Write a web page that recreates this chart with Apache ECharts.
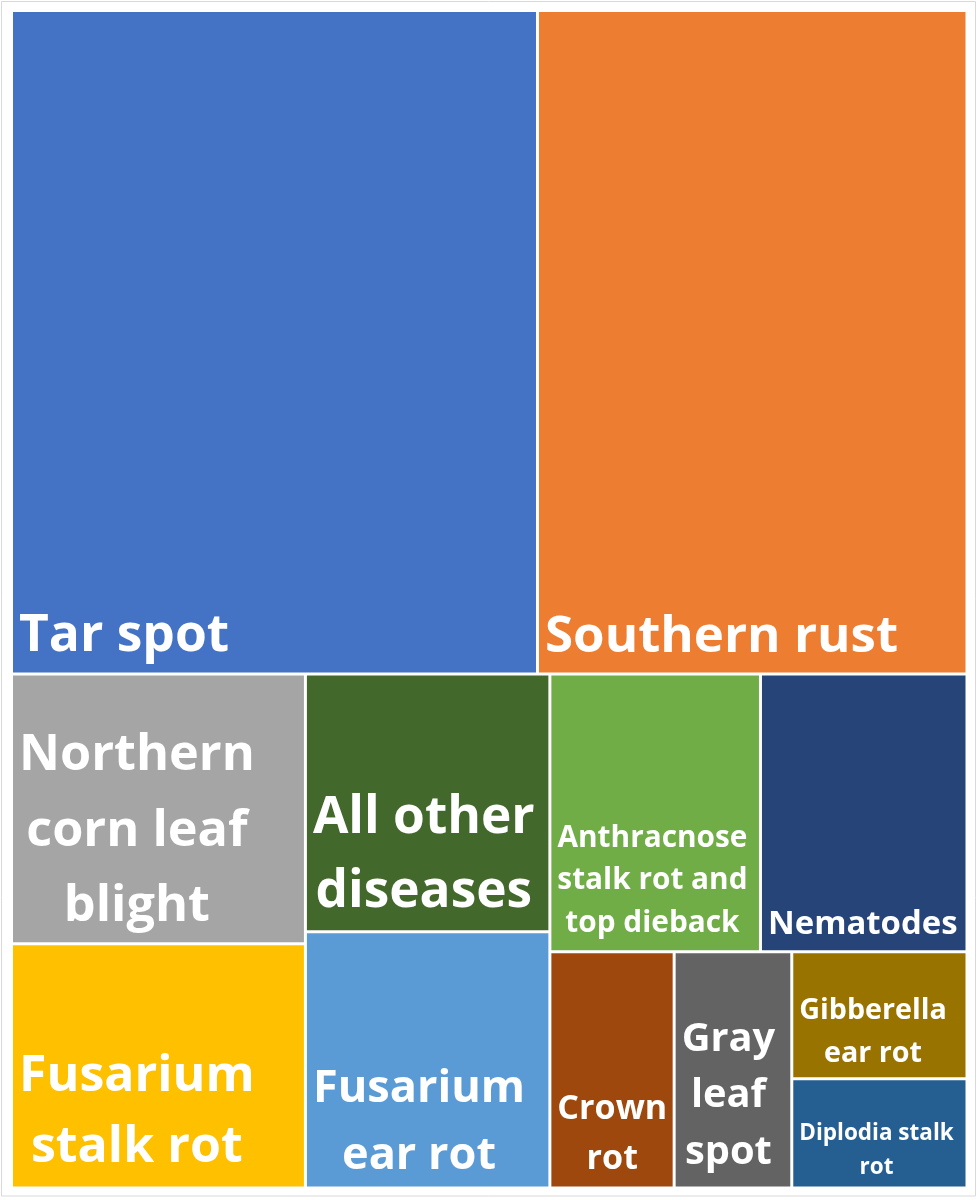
<!DOCTYPE html>
<html>
<head>
<meta charset="utf-8">
<script src="https://cdn.jsdelivr.net/npm/echarts@6/dist/echarts.min.js"></script>
<style>
html,body{margin:0;padding:0;background:#fff;}
#chart{width:980px;height:1200px;}
</style>
</head>
<body>
<div id="chart"></div>
<script>
// ---- data ----
const diseases = [
  'Tar spot', 'Southern rust', 'Northern corn leaf blight', 'Fusarium stalk rot',
  'All other diseases', 'Fusarium ear rot', 'Anthracnose stalk rot and top dieback',
  'Nematodes', 'Crown rot', 'Gray leaf spot', 'Gibberella ear rot', 'Diplodia stalk rot'
];
// share of estimated loss (%)
const lossShare = [31.02, 25.33, 7.05, 6.38, 5.60, 5.57, 5.20, 5.10, 2.61, 2.47, 1.98, 1.70];
const labelLines = [
  'Tar spot', 'Southern rust', 'Northern\ncorn leaf\nblight', 'Fusarium\nstalk rot',
  'All other\ndiseases', 'Fusarium\near rot', 'Anthracnose\nstalk rot and\ntop dieback',
  'Nematodes', 'Crown\nrot', 'Gray\nleaf\nspot', 'Gibberella\near rot', 'Diplodia stalk\nrot'
];

// ---- styles ----
const colors = ['#4472C4', '#ED7D31', '#A5A5A5', '#FFC000', '#43682B', '#5B9BD5',
                '#70AD47', '#264478', '#9E480E', '#636363', '#997300', '#255E91'];
const labelSize = [51.5, 51, 50.4, 50.1, 51.4, 45.1, 29.8, 32.9, 34.1, 39.8, 28.7, 22.5];
const labelLineHeight = [74, 74, 75.5, 71.7, 74, 66.7, 42.5, 47, 50, 56.7, 42.3, 34];
const labelBaselineGap = [22.5, 21.5, 22.5, 25.5, 24, 19, 19, 17.5, 18.5, 23.5, 16.3, 13.3];
const LABEL_PAD = 6;
const BASELINE_K = 0.26;
const FONT = 'Open Sans';

const measureCtx = document.createElement('canvas').getContext('2d');
function blockWidth(text, size) {
  measureCtx.font = 'bold ' + size + 'px "' + FONT + '"';
  return Math.max.apply(null, text.split('\n').map(t => measureCtx.measureText(t).width));
}

const data = diseases.map((name, i) => ({
  name: name,
  value: lossShare[i],
  itemStyle: { color: colors[i] },
  label: {
    formatter: labelLines[i],
    fontSize: labelSize[i],
    lineHeight: labelLineHeight[i],
    align: 'center',
    verticalAlign: 'bottom',
    position: [LABEL_PAD + blockWidth(labelLines[i], labelSize[i]) / 2, '100%'],
    offset: [0, -labelBaselineGap[i] + labelLineHeight[i] / 2 - BASELINE_K * labelSize[i]]
  }
}));

const chart = echarts.init(document.getElementById('chart'), null, { renderer: 'canvas' });
chart.setOption({
  animation: false,
  backgroundColor: '#ffffff',
  graphic: [{
    type: 'rect', silent: true, z: -10,
    shape: { x: 1.5, y: 1.5, width: 974, height: 1194.5 },
    style: { fill: 'none', stroke: '#d9d9d9', lineWidth: 1 }
  }],
  series: [{
    type: 'treemap',
    left: 13, top: 12, width: 952.5, height: 1174.5,
    squareRatio: 0.88,
    sort: 'desc',
    roam: false,
    nodeClick: false,
    breadcrumb: { show: false },
    silent: true,
    itemStyle: { gapWidth: 3, borderWidth: 0, borderColor: '#ffffff' },
    label: {
      show: true,
      color: '#ffffff',
      fontFamily: FONT,
      fontWeight: 'bold',
      padding: 0,
      overflow: 'none'
    },
    data: data
  }]
});
</script>
</body>
</html>
